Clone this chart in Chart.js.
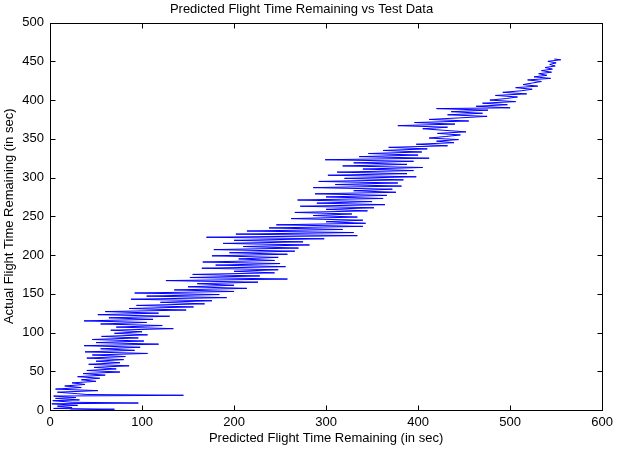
<!DOCTYPE html>
<html>
<head>
<meta charset="utf-8">
<script src="https://cdn.jsdelivr.net/npm/chart.js@4/dist/chart.umd.min.js"></script>
<style>
html,body{margin:0;padding:0;background:#fff;}
canvas{display:block;}
</style>
</head>
<body>
<canvas id="c" width="618" height="453"></canvas>
<script>
// Actual flight time remaining (y) and predicted flight time remaining (x)
const actualTime = [
453,452,450,448,446,444,442,440,438,436,
434,432,430,428,426,424,422,420,418,416,
414,412,410,408,406,404,402,400,398,396,
394,392,390,389,387,385,383,381,379,377,
375,373,371,369,367,365,363,361,359,357,
355,353,351,349,347,345,343,341,339,337,
335,333,331,329,327,325,323,321,319,317,
315,313,311,309,307,305,303,301,299,297,
295,293,291,289,287,285,283,281,279,277,
275,273,271,269,267,265,263,261,259,257,
255,253,251,249,247,245,243,241,239,237,
235,233,231,229,227,225,223,221,219,217,
215,213,211,209,207,205,203,201,199,197,
195,193,191,189,187,185,183,181,179,177,
175,173,171,169,167,165,163,161,159,157,
155,153,151,149,147,145,143,141,139,137,
135,133,131,129,127,125,123,121,119,117,
115,113,111,109,107,105,103,101,99,97,
95,93,91,89,87,85,83,81,79,77,
75,73,71,69,67,65,63,61,59,57,
55,53,51,49,47,45,43,41,39,37,
35,33,31,29,27,25,23,21,20,19,
18,16,15,13,12,10,9,8,6,5,
3,2,1,0
];
const predictedTime = [
548,555,541,550,543,549,538,546,534,545,
531,540,526,544,519,534,524,514,530,506,
524,512,492,518,484,508,496,478,506,470,
497,463,500,420,476,436,470,432,475,445,
412,455,396,440,378,432,405,428,452,421,
446,430,412,444,420,439,398,432,368,410,
362,404,346,400,336,412,299,395,330,388,
318,405,340,395,312,388,302,398,320,384,
292,378,310,382,286,372,330,376,288,366,
300,362,269,350,290,364,272,352,300,345,
266,328,286,334,262,340,300,343,246,340,
238,318,214,330,202,334,170,298,200,275,
188,282,210,270,178,266,195,258,176,248,
205,244,166,250,180,256,165,248,200,244,
155,228,152,258,126,226,160,200,150,214,
135,200,92,184,105,192,88,176,120,168,
94,156,86,148,60,118,52,130,64,112,
37,105,55,122,72,134,66,100,70,106,
56,96,46,102,50,118,37,98,55,92,
38,106,46,82,40,80,50,76,42,86,
48,72,40,76,36,60,30,54,34,50,
24,38,16,34,6,52,8,30,40,145,
4,28,6,32,3,24,96,2,30,8,
24,4,70,22
];
const xTicks = [0,100,200,300,400,500,600];
const yTicks = [0,50,100,150,200,250,300,350,400,450,500];
const titleText = 'Predicted Flight Time Remaining vs Test Data';
const xTitle = 'Predicted Flight Time Remaining (in sec)';
const yTitle = 'Actual Flight Time Remaining (in sec)';

const points = predictedTime.map((p, i) => ({x: p, y: actualTime[i]}));

const FONT = '"Liberation Sans", Arial, Helvetica, sans-serif';
Chart.defaults.font.family = FONT;
Chart.defaults.font.size = 13;
Chart.defaults.color = '#000';

const framePlugin = {
  id: 'frame',
  afterDraw(chart) {
    const {ctx, chartArea, scales} = chart;
    const l = Math.round(chartArea.left) + 0.5, r = Math.round(chartArea.right) + 0.5;
    const t = Math.round(chartArea.top) + 0.5, b = Math.round(chartArea.bottom) + 0.5;
    ctx.save();
    ctx.strokeStyle = '#000';
    ctx.lineWidth = 1;
    ctx.strokeRect(l, t, r - l, b - t);
    ctx.beginPath();
    xTicks.forEach(v => {
      const px = Math.round(scales.x.getPixelForValue(v)) + 0.5;
      ctx.moveTo(px, b); ctx.lineTo(px, b - 5);
      ctx.moveTo(px, t); ctx.lineTo(px, t + 5);
    });
    yTicks.forEach(v => {
      const py = Math.round(scales.y.getPixelForValue(v)) + 0.5;
      ctx.moveTo(l, py); ctx.lineTo(l + 5, py);
      ctx.moveTo(r, py); ctx.lineTo(r - 5, py);
    });
    ctx.stroke();
    ctx.restore();
  }
};

new Chart(document.getElementById('c'), {
  type: 'scatter',
  data: {
    datasets: [{
      data: points,
      showLine: true,
      borderColor: '#0000ff',
      backgroundColor: '#0000ff',
      borderWidth: 1,
      pointRadius: 0,
      tension: 0
    }]
  },
  options: {
    responsive: false,
    animation: false,
    devicePixelRatio: 1,
    layout: {padding: {left: 0, right: 15, top: 0, bottom: 0}},
    plugins: {
      legend: {display: false},
      tooltip: {enabled: false},
      title: {
        display: true,
        text: titleText,
        color: '#000',
        font: {size: 13, weight: 'normal', family: FONT},
        padding: {top: 2, bottom: 5}
      }
    },
    scales: {
      x: {
        type: 'linear',
        min: 0, max: 600,
        afterBuildTicks(scale) { scale.ticks = xTicks.map(v => ({value: v})); },
        ticks: {padding: 5, color: '#000', font: {size: 13}, maxRotation: 0, autoSkip: false},
        grid: {display: false, drawTicks: false, tickLength: 0},
        border: {display: false},
        title: {display: true, text: xTitle, color: '#000', font: {size: 13}, padding: {top: 0, bottom: 7}},
        afterFit(scale) { scale.height = 43; }
      },
      y: {
        type: 'linear',
        min: 0, max: 500,
        afterBuildTicks(scale) { scale.ticks = yTicks.map(v => ({value: v})); },
        ticks: {padding: 6, color: '#000', font: {size: 13}, autoSkip: false},
        grid: {display: false, drawTicks: false, tickLength: 0},
        border: {display: false},
        title: {display: true, text: yTitle, color: '#000', font: {size: 13}, padding: {top: 2, bottom: 0}},
        afterFit(scale) { scale.width = 50; }
      }
    }
  },
  plugins: [framePlugin]
});
</script>
</body>
</html>
